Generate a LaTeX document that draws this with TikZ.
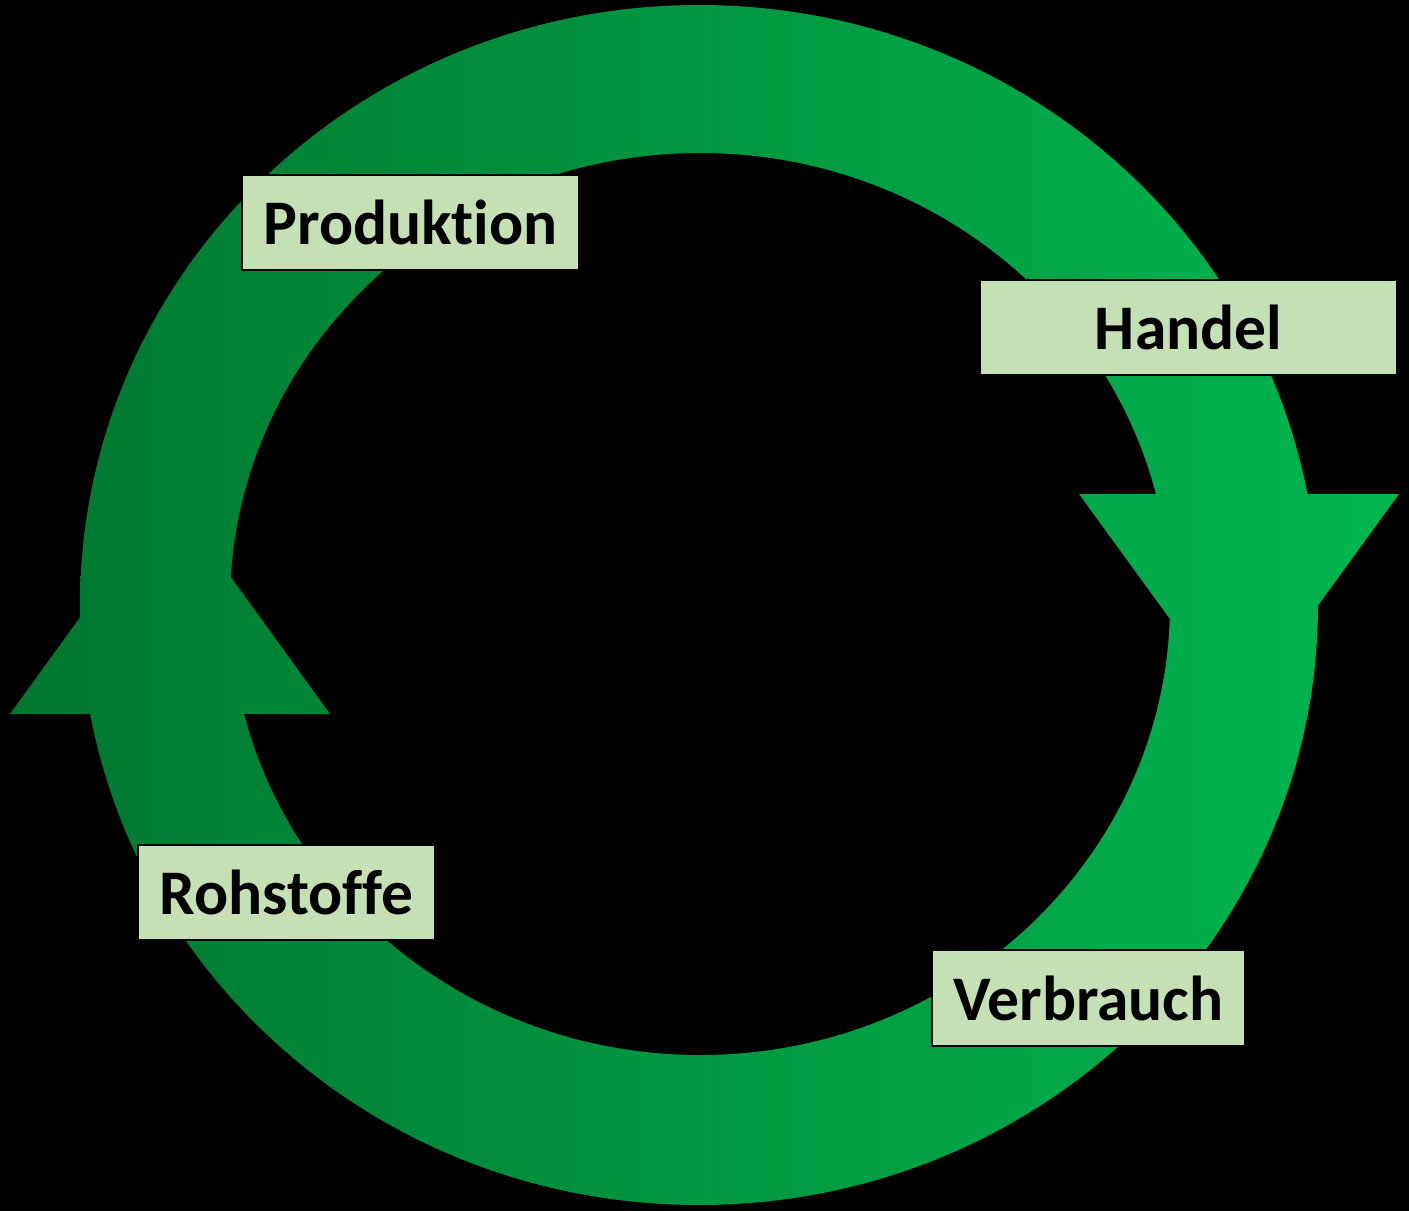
\documentclass[tikz,border=0pt]{standalone}
\usepackage{fontspec}
\setmainfont{Carlito}[Ligatures={NoCommon,NoContextual}]
\definecolor{gdark}{HTML}{00772F}
\definecolor{glight}{HTML}{00B650}
\definecolor{boxfill}{HTML}{C5E0B4}
\tikzset{
  lbl/.style={draw=black, line width=1.5pt, fill=boxfill, inner sep=0pt,
    font=\fontsize{63.5}{76}\selectfont\bfseries, text=black, anchor=center},
  greenshade/.style={left color=gdark, right color=glight, draw=none}
}
\begin{document}
\begin{tikzpicture}[x=1pt,y=-1pt]
\fill[black] (0,0) rectangle (1409,1211);
\useasboundingbox (0,0) rectangle (1409,1211);
% ring
\begin{scope}[even odd rule]
  \clip (699,605) ellipse [x radius=619, y radius=600]
        (700,604) ellipse [x radius=470, y radius=451];
  \shade[greenshade] (10,0) rectangle (1399,1211);
\end{scope}
% left arrowhead
\begin{scope}
  \clip (10,714) -- (330,714) -- (170,493) -- cycle;
  \shade[greenshade] (10,0) rectangle (1399,1211);
\end{scope}
% right arrowhead
\begin{scope}
  \clip (1079,494) -- (1399,494) -- (1239,714) -- cycle;
  \shade[greenshade] (10,0) rectangle (1399,1211);
\end{scope}
% labels
\node[lbl, minimum width=337pt, minimum height=95pt] (prod) at (410.5,222.5) {Produktion};
\node[lbl, minimum width=417pt, minimum height=95pt] (hand) at (1188.5,327.5) {Handel};
\node[lbl, minimum width=297pt, minimum height=95pt] (roh) at (286.5,892.5) {Rohstoffe};
\node[lbl, minimum width=313pt, minimum height=96pt] (verb) at (1088.5,998) {Verbrauch};
\end{tikzpicture}
\end{document}
